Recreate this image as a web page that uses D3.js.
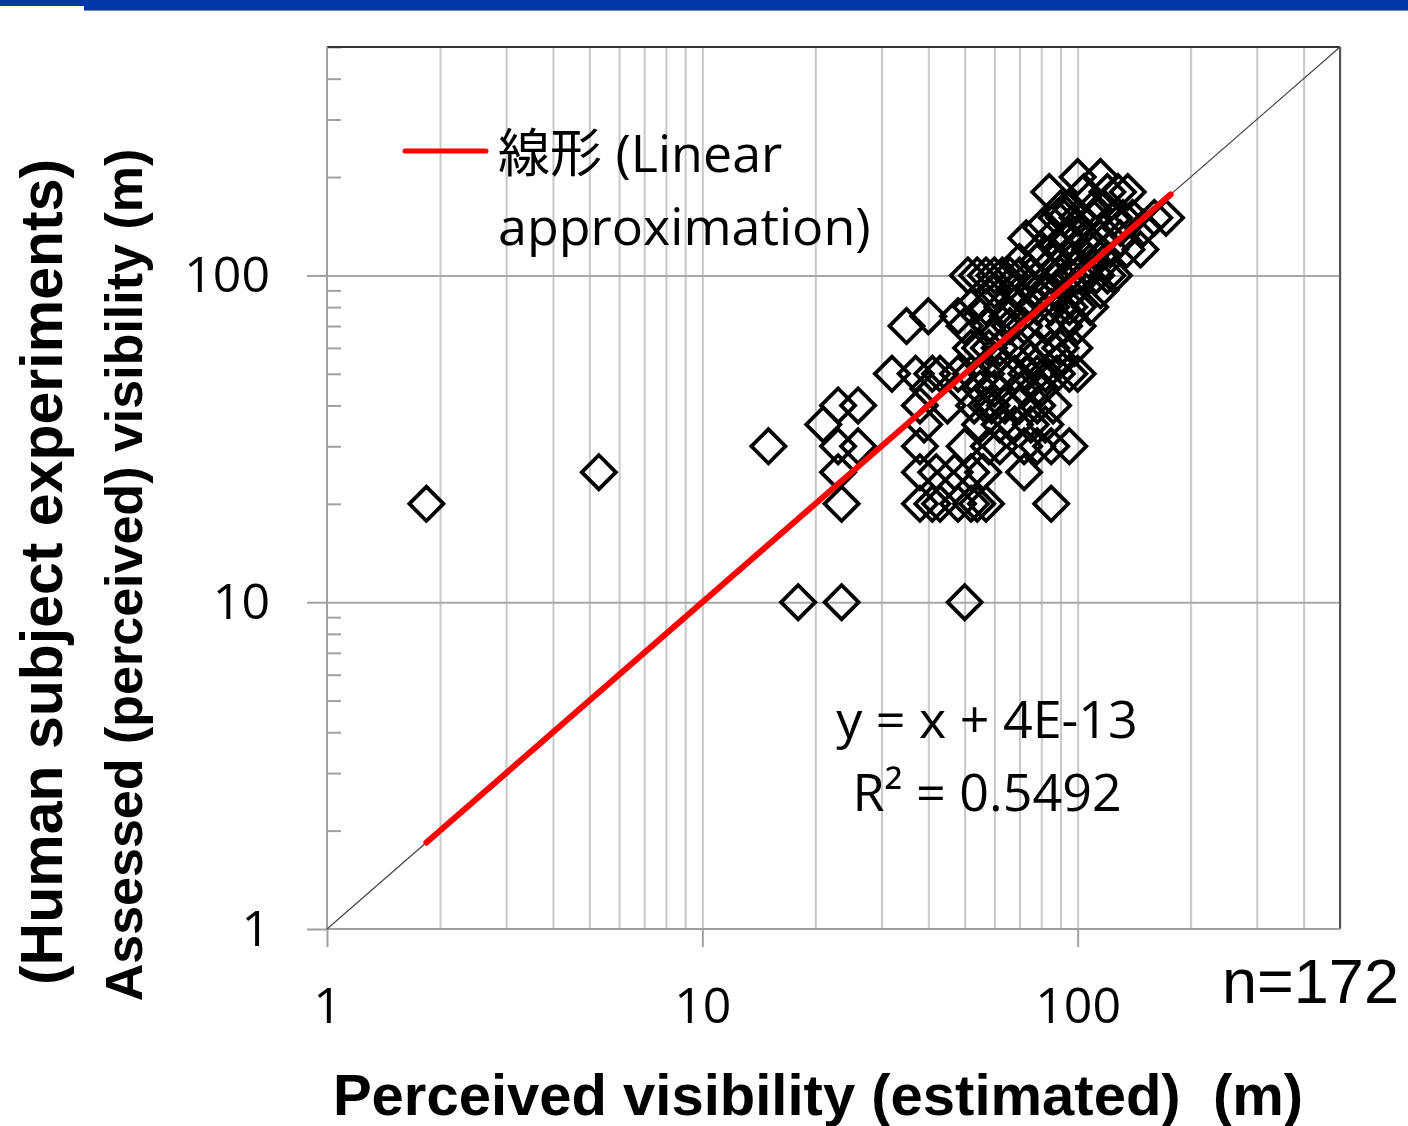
<!DOCTYPE html>
<html>
<head>
<meta charset="utf-8">
<script src="https://cdn.jsdelivr.net/npm/d3@7"></script>
<style>
  body { margin: 0; background: #fff; }
  svg { display: block; }
  .tick text { font-family: 'Open Sans', 'Noto Sans CJK JP', sans-serif; font-size: 50px; fill: #000; }
  .domain { display: none; }
</style>
</head>
<body>
<svg id="chart"></svg>
<script>
// assessed (y) and estimated (x) visibility, one row per assessed value
let assessed = [
  200, 200,
  180, 180, 180, 180, 180,
  160, 160, 160, 160,
  150, 150, 150, 150, 150, 150, 150, 150, 150,
  140, 140, 140, 140,
  130, 130, 130, 130, 130, 130,
  120, 120, 120, 120, 120, 120, 120, 120,
  110, 110, 110, 110, 110, 110,
  100, 100, 100, 100, 100, 100, 100, 100, 100, 100, 100, 100, 100, 100, 100, 100,
  90, 90, 90, 90, 90, 90, 90,
  80, 80, 80, 80, 80, 80, 80, 80, 80, 80,
  75, 75, 75, 75, 75,
  70, 70, 70, 70, 70, 70, 70, 70,
  60, 60, 60, 60, 60, 60, 60, 60, 60,
  55, 55, 55,
  50, 50, 50, 50, 50, 50, 50, 50, 50, 50, 50, 50, 50, 50, 50,
  45, 45, 45, 45, 45,
  40, 40, 40, 40, 40, 40, 40, 40, 40, 40, 40,
  35, 35, 35, 35, 35, 35, 35,
  30, 30, 30, 30, 30, 30, 30, 30, 30, 30, 30,
  25, 25, 25, 25, 25, 25, 25, 25,
  20, 20, 20, 20, 20, 20, 20, 20, 20, 20,
  10, 10, 10
]
let estimated = [
  115, 100,
  84, 104, 120, 136, 128,
  96, 110, 90, 118,
  88, 92, 100, 110, 125, 140, 160, 172, 132,
  80, 98, 130, 150,
  73, 85, 95, 105, 115, 130,
  80, 90, 100, 112, 135, 147, 122, 108,
  70, 78, 86, 96, 108, 118,
  51, 54, 57, 60, 63, 66, 75, 85, 95, 100, 105, 112, 120, 125, 70, 90,
  60, 68, 76, 88, 98, 115, 82,
  52, 57, 63, 70, 78, 90, 100, 108, 85, 95,
  40, 48, 55, 65, 95,
  35, 50, 58, 72, 82, 92, 100, 66,
  52, 55, 62, 70, 78, 90, 98, 85, 58,
  60, 75, 90,
  32, 37, 41, 43, 52, 57, 62, 68, 73, 78, 82, 88, 95, 100, 48,
  40, 55, 60, 72, 80,
  23, 26, 38, 53, 57, 59, 64, 70, 78, 86, 45,
  21, 39, 55, 62, 68, 75, 82,
  15, 23, 26, 38, 50, 58, 72, 78, 85, 95, 62,
  5.3, 23, 38, 42, 47, 52, 56, 72,
  1.84, 23.5, 38, 41, 43, 48, 52, 54, 57, 85,
  18, 23.5, 50
]

let majorTicks = [1, 10, 100]
let minorTicks = [2, 3, 4, 5, 6, 7, 8, 9, 20, 30, 40, 50, 60, 70, 80, 90, 200, 300, 400, 500]
let fitRange = [1.84, 177]
let legendLines = ['線形 (Linear', 'approximation)']
let equationLines = ['y = x + 4E-13', 'R² = 0.5492']
let xTitle = 'Perceived visibility (estimated)  (m)'
let yTitle1 = '(Human subject experiments)'
let yTitle2 = 'Assessed (perceived) visibility (m)'

let width = 1408
let height = 1126
let plotLeft = 327, plotRight = 1340, plotTop = 47, plotBottom = 929

let svg = d3.select('#chart')
svg.attr('width', width).attr('height', height)

// top banner
svg.append('rect').attr('x', 0).attr('y', 0).attr('width', 84).attr('height', 6).attr('fill', '#0038a8')
svg.append('rect').attr('x', 84).attr('y', 0).attr('width', width - 84).attr('height', 10).attr('fill', '#0038a8')
svg.append('line').attr('x1', 84).attr('x2', width).attr('y1', 10.5).attr('y2', 10.5)
  .attr('stroke', '#7a8aa8').attr('stroke-width', 1)

let xScale = d3.scaleLog().domain([1, 500]).range([plotLeft, plotRight])
let yScale = d3.scaleLog().domain([1, 500]).range([plotBottom, plotTop])

// vertical grid at every x tick
svg.append('g')
  .attr('transform', 'translate(0,' + plotBottom + ')')
  .call(d3.axisBottom(xScale).tickValues(minorTicks.concat([10, 100])).tickSize(-(plotBottom - plotTop)).tickFormat(''))
  .selectAll('line').attr('stroke', '#c8c8c8').attr('stroke-width', 2)

// horizontal grid at major y
svg.append('g')
  .attr('transform', 'translate(' + plotLeft + ',0)')
  .call(d3.axisLeft(yScale).tickValues([10, 100]).tickSize(-(plotRight - plotLeft)).tickFormat(''))
  .selectAll('line').attr('stroke', '#a8a8a8').attr('stroke-width', 2)

// y minor ticks (inside)
svg.append('g')
  .attr('transform', 'translate(' + plotLeft + ',0)')
  .call(d3.axisLeft(yScale).tickValues(minorTicks).tickSize(-14).tickFormat(''))
  .selectAll('line').attr('stroke', '#a0a0a0').attr('stroke-width', 2)

// frame
svg.append('line').attr('x1', plotLeft).attr('x2', plotRight).attr('y1', plotTop).attr('y2', plotTop)
  .attr('stroke', '#333').attr('stroke-width', 2)
svg.append('line').attr('x1', plotRight).attr('x2', plotRight).attr('y1', plotTop).attr('y2', plotBottom)
  .attr('stroke', '#555').attr('stroke-width', 2)
svg.append('line').attr('x1', plotLeft).attr('x2', plotLeft).attr('y1', plotTop).attr('y2', plotBottom)
  .attr('stroke', '#a0a0a0').attr('stroke-width', 2)
svg.append('line').attr('x1', plotLeft).attr('x2', plotRight).attr('y1', plotBottom).attr('y2', plotBottom)
  .attr('stroke', '#a0a0a0').attr('stroke-width', 2)

// major axes with labels
let xAxis = d3.axisBottom(xScale).tickValues(majorTicks).tickSize(18).tickPadding(40).tickFormat(d3.format('d'))
let gx = svg.append('g').attr('transform', 'translate(0,' + plotBottom + ')').call(xAxis)
gx.selectAll('line').attr('stroke', '#a0a0a0').attr('stroke-width', 2)

let yAxis = d3.axisLeft(yScale).tickValues(majorTicks).tickSize(20).tickPadding(37).tickFormat(d3.format('d'))
let gy = svg.append('g').attr('transform', 'translate(' + plotLeft + ',0)').call(yAxis)
gy.selectAll('line').attr('stroke', '#a0a0a0').attr('stroke-width', 2)

// y = x reference diagonal
svg.append('line')
  .attr('x1', xScale(1)).attr('y1', yScale(1))
  .attr('x2', xScale(500)).attr('y2', yScale(500))
  .attr('stroke', '#444').attr('stroke-width', 1.2)

// points
let points = estimated.map((x, i) => ({ x: x, y: assessed[i] }))
svg.append('g').selectAll('path')
  .data(points)
  .enter()
  .append('path')
  .attr('d', d3.symbol(d3.symbolSquare, 580)())
  .attr('transform', (d) => 'translate(' + xScale(d.x) + ',' + yScale(d.y) + ') rotate(45)')
  .attr('fill', 'none')
  .attr('stroke', '#000')
  .attr('stroke-width', 3.8)

// linear fit
svg.append('line')
  .attr('x1', xScale(fitRange[0])).attr('y1', yScale(fitRange[0]))
  .attr('x2', xScale(fitRange[1])).attr('y2', yScale(fitRange[1]))
  .attr('stroke', '#ff0000').attr('stroke-width', 6).attr('stroke-linecap', 'round')

// legend
svg.append('line').attr('x1', 405).attr('x2', 486).attr('y1', 151).attr('y2', 151)
  .attr('stroke', '#ff0000').attr('stroke-width', 5).attr('stroke-linecap', 'round')
svg.selectAll('.leg')
  .data(legendLines)
  .enter()
  .append('text')
  .attr('class', 'leg')
  .attr('x', 498)
  .attr('y', (d, i) => 172 + i * 73)
  .attr('font-family', "'Open Sans', 'Noto Sans CJK JP', sans-serif")
  .attr('font-size', 52)
  .attr('fill', '#000')
  .text((d) => d)

// equation
svg.selectAll('.eq')
  .data(equationLines)
  .enter()
  .append('text')
  .attr('class', 'eq')
  .attr('x', 987)
  .attr('y', (d, i) => 738 + i * 73)
  .attr('text-anchor', 'middle')
  .attr('font-family', "'Open Sans', sans-serif")
  .attr('font-size', 52)
  .attr('fill', '#000')
  .text((d) => d)

// n label
svg.append('text').attr('x', 1222).attr('y', 1003)
  .attr('font-family', "'Liberation Sans', Arial, sans-serif").attr('font-size', 63)
  .text('n=172')

// axis titles
svg.append('text').attr('x', 818).attr('y', 1115)
  .attr('text-anchor', 'middle')
  .style('white-space', 'pre')
  .attr('font-family', "'Liberation Sans', Arial, sans-serif").attr('font-size', 58).attr('font-weight', 'bold')
  .text(xTitle)

svg.append('text').attr('transform', 'translate(62,572) rotate(-90)')
  .attr('text-anchor', 'middle')
  .attr('font-family', "'Liberation Sans', Arial, sans-serif").attr('font-size', 59).attr('font-weight', 'bold')
  .text(yTitle1)

svg.append('text').attr('transform', 'translate(142,575) rotate(-90)')
  .attr('text-anchor', 'middle')
  .attr('font-family', "'Liberation Sans', Arial, sans-serif").attr('font-size', 52).attr('font-weight', 'bold')
  .text(yTitle2)
</script>
</body>
</html>
